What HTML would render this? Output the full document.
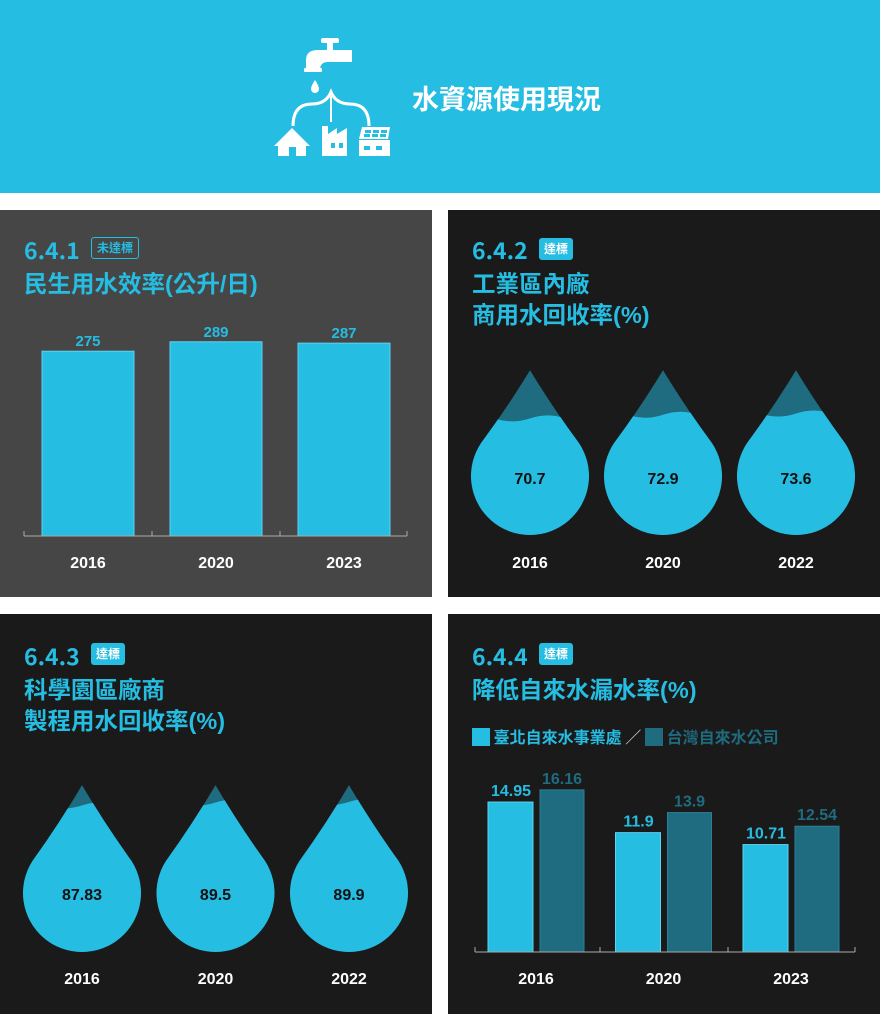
<!DOCTYPE html>
<html><head><meta charset="utf-8">
<style>
*{margin:0;padding:0;box-sizing:border-box}
body{width:880px;height:1014px;background:#fff;position:relative;overflow:hidden;font-family:"Liberation Sans","Noto Sans CJK TC",sans-serif}
.abs{position:absolute}
.panel{position:absolute}
.num{position:absolute;color:#26BDE2;font-weight:bold;font-size:23px;font-family:"Noto Sans CJK TC","Liberation Sans",sans-serif}
.ttl{position:absolute;color:#26BDE2;font-weight:bold;font-size:23.5px;line-height:31px;font-family:"Liberation Sans","Noto Sans CJK TC",sans-serif}
.tag{position:absolute;font-size:12px;font-weight:bold;border-radius:3px;padding:0 5px;height:22px;line-height:22px;font-family:"Noto Sans CJK TC",sans-serif}
.tag.ok{background:#26BDE2;color:#fff}
.tag.no{border:1px solid #26BDE2;color:#26BDE2;line-height:20px}
svg text{font-family:"Liberation Sans",sans-serif}
</style></head><body>
<div class="abs" style="left:0;top:0;width:880px;height:193px;background:#26BDE2">
<svg width="880" height="193" style="position:absolute;left:0;top:0">
<g fill="#fff" stroke="none">
<rect x="321" y="38" width="18" height="5" rx="2"/><rect x="327" y="42" width="6" height="8"/>
<path d="M306 60 Q306 50 318 50 L352 50 L352 62 L328 62 Q320 62 320 70 L306 70 Z"/>
<rect x="304" y="68" width="18" height="4" rx="1"/>
<path d="M315 80 Q319 86 319 89 A4 4 0 0 1 311 89 Q311 86 315 80Z"/>
<path d="M274 146 L292 128 L310 146 L306 146 L306 156 L296 156 L296 147 L289 147 L289 156 L278 156 L278 146Z"/>
<path d="M322 126 L328 126 L328 134 L337 128 L337 134 L347 128 L347 156 L322 156Z" />
<rect x="359" y="140" width="31" height="16"/>
<path d="M362 127 L390 127 L388 139 L359 139Z"/>
</g>
<g fill="#26BDE2"><rect x="331" y="143" width="4" height="5"/><rect x="339" y="143" width="4" height="5"/><rect x="364" y="146" width="6" height="4"/><rect x="376" y="146" width="6" height="4"/>
<rect x="365" y="130" width="6" height="3"/><rect x="373" y="130" width="6" height="3"/><rect x="381" y="130" width="6" height="3"/><rect x="364" y="134" width="6" height="3"/><rect x="372" y="134" width="6" height="3"/><rect x="380" y="134" width="6" height="3"/></g>
<path d="M293 126 Q293 104 312 104 Q326 104 331 92 Q336 104 350 104 Q369 104 369 126" fill="none" stroke="#fff" stroke-width="3"/>
<line x1="331" y1="96" x2="331" y2="122" stroke="#fff" stroke-width="2"/>
</svg>
<div class="abs" style="left:412px;top:80px;color:#fff;font-weight:bold;font-size:27px;font-family:'Noto Sans CJK TC',sans-serif;line-height:36px">水資源使用現況</div>
</div>

<!-- Panel 1 -->
<div class="panel" style="left:0;top:210px;width:432px;height:387px;background:#464646">
<div class="num" style="left:24px;top:22px">6.4.1</div>
<div class="tag no" style="left:91px;top:27px">未達標</div>
<div class="ttl" style="left:24px;top:59px">民生用水效率(公升/日)</div>
<svg id="c1" width="432" height="387" style="position:absolute;left:0;top:0"></svg>
</div>

<!-- Panel 2 -->
<div class="panel" style="left:448px;top:210px;width:432px;height:387px;background:#1a1a1a">
<div class="num" style="left:24px;top:22px">6.4.2</div>
<div class="tag ok" style="left:91px;top:28px">達標</div>
<div class="ttl" style="left:24px;top:59px">工業區內廠<br>商用水回收率(%)</div>
<svg id="c2" width="432" height="387" style="position:absolute;left:0;top:0"></svg>
</div>

<!-- Panel 3 -->
<div class="panel" style="left:0;top:614px;width:432px;height:400px;background:#1a1a1a">
<div class="num" style="left:24px;top:24px">6.4.3</div>
<div class="tag ok" style="left:91px;top:29px">達標</div>
<div class="ttl" style="left:24px;top:61px">科學園區廠商<br>製程用水回收率(%)</div>
<svg id="c3" width="432" height="400" style="position:absolute;left:0;top:0"></svg>
</div>

<!-- Panel 4 -->
<div class="panel" style="left:448px;top:614px;width:432px;height:400px;background:#1a1a1a">
<div class="num" style="left:24px;top:24px">6.4.4</div>
<div class="tag ok" style="left:91px;top:29px">達標</div>
<div class="ttl" style="left:24px;top:61px">降低自來水漏水率(%)</div>
<div class="abs" style="left:24px;top:111px;height:22px;font-size:16px;font-weight:bold;font-family:'Noto Sans CJK TC',sans-serif;line-height:22px;white-space:nowrap">
<span><span style="display:inline-block;width:18px;height:18px;background:#26BDE2;vertical-align:-3px"></span> <span style="color:#26BDE2">臺北自來水事業處</span></span>
<span style="color:#ddd;font-weight:normal">／</span>
<span><span style="display:inline-block;width:18px;height:18px;background:#1f6b7f;vertical-align:-3px"></span> <span style="color:#1f6b7f">台灣自來水公司</span></span>
</div>
<svg id="c4" width="432" height="400" style="position:absolute;left:0;top:0"></svg>
</div>

<script>
const NS="http://www.w3.org/2000/svg";
function mk(p,tag,attrs,txt){const e=document.createElementNS(NS,tag);for(const k in attrs)e.setAttribute(k,attrs[k]);if(txt!==undefined)e.textContent=txt;p.appendChild(e);return e;}

// Chart 1 data
const c1Years=["2016","2020","2023"];
const c1Values=[275,289,287];
// Chart 2 data
const c2Years=["2016","2020","2022"];
const c2Values=[70.7,72.9,73.6];
// Chart 3 data
const c3Years=["2016","2020","2022"];
const c3Values=[87.83,89.5,89.9];
// Chart 4 data
const c4Years=["2016","2020","2023"];
const c4Taipei=[14.95,11.9,10.71];
const c4Taiwan=[16.16,13.9,12.54];

// Chart 1
(function(){
const s=document.getElementById('c1');
const base=326, scale=0.672, x0=24, x1=407;
const xc=i=>88+i*128;
const y=v=>base-v*scale;
c1Values.forEach((v,i)=>{
 const r=mk(s,'rect',{x:xc(i)-46,y:y(v),width:92,height:base-y(v),fill:'#26BDE2',stroke:'#5fd3ee','stroke-width':1});
 
 
 const t=mk(s,'text',{x:xc(i),y:y(v)-5,'text-anchor':'middle',fill:'#26BDE2','font-size':15,'font-weight':'bold'},v);
 
 
 const yl=mk(s,'text',{x:xc(i),y:358,'text-anchor':'middle',fill:'#fff','font-size':16,'font-weight':'bold'},c1Years[i]);
 
 
});
mk(s,'line',{x1:x0,y1:base,x2:x1,y2:base,stroke:'#aaa','stroke-width':1});
[x0,152,280,x1].forEach(x=>mk(s,'line',{x1:x,y1:base,x2:x,y2:base-5,stroke:'#aaa'}));
})();

// drops
function drops(id,years,vals,cx0,dx,tipY,H,W,labelY){
 const s=document.getElementById(id);
 const r=W/2, d=H-r;
 const px=r*Math.sqrt(1-(r/d)*(r/d)), py=d-r*r/d;
 vals.forEach((v,i)=>{
  const cx=cx0+i*dx;
  const path=`M${cx},${tipY} Q${cx+px*0.45},${tipY+py*0.5} ${cx+px},${tipY+py} A${r},${r} 0 1 1 ${cx-px},${tipY+py} Q${cx-px*0.45},${tipY+py*0.5} ${cx},${tipY} Z`;
  const cp=mk(s,'clipPath',{id:id+'cp'+i});mk(cp,'path',{d:path});
  const g=mk(s,'g',{'clip-path':`url(#${id}cp${i})`});
  
  
  mk(g,'path',{d:path,fill:'#1f6b7f'});
  const wy=tipY+H-H*v/100;
  const wave=`M${cx-70},${wy} Q${cx-52},${wy-6} ${cx-35},${wy} T${cx},${wy} T${cx+35},${wy} T${cx+70},${wy} L${cx+70},${tipY+H+5} L${cx-70},${tipY+H+5} Z`;
  mk(g,'path',{d:wave,fill:'#26BDE2'});
  const t=mk(s,'text',{x:cx,y:tipY+H*0.69,'text-anchor':'middle',fill:'#111','font-size':16,'font-weight':'bold'},v);
  
  
  const yl=mk(s,'text',{x:cx,y:labelY,'text-anchor':'middle',fill:'#fff','font-size':16,'font-weight':'bold'},years[i]);
  
  
 });
}
drops('c2',c2Years,c2Values,82,133,160,165,118,358);
drops('c3',c3Years,c3Values,82,133.5,171,167,118,370);

// Chart 4
(function(){
const s=document.getElementById('c4');
const base=338, scale=10.03;
const gc=i=>88+i*127.5;
const y=v=>base-v*scale;
c4Years.forEach((yr,i)=>{
 const a=c4Taipei[i], b=c4Taiwan[i];
 const r1=mk(s,'rect',{x:gc(i)-48,y:y(a),width:45,height:base-y(a),fill:'#26BDE2',stroke:'#5fd3ee'});
 
 
 const r2=mk(s,'rect',{x:gc(i)+4,y:y(b),width:44,height:base-y(b),fill:'#1f6b7f',stroke:'#2a8098'});
 
 
 const t1=mk(s,'text',{x:gc(i)-25,y:y(a)-6,'text-anchor':'middle',fill:'#26BDE2','font-size':16,'font-weight':'bold'},a);
 
 
 const t2=mk(s,'text',{x:gc(i)+26,y:y(b)-6,'text-anchor':'middle',fill:'#1f6b7f','font-size':16,'font-weight':'bold'},b);
 
 
 const yl=mk(s,'text',{x:gc(i),y:370,'text-anchor':'middle',fill:'#fff','font-size':16,'font-weight':'bold'},yr);
 
 
});
mk(s,'line',{x1:27,y1:base,x2:407,y2:base,stroke:'#aaa'});
[27,152,280,407].forEach(x=>mk(s,'line',{x1:x,y1:base,x2:x,y2:base-5,stroke:'#aaa'}));
})();
</script>
</body></html>
